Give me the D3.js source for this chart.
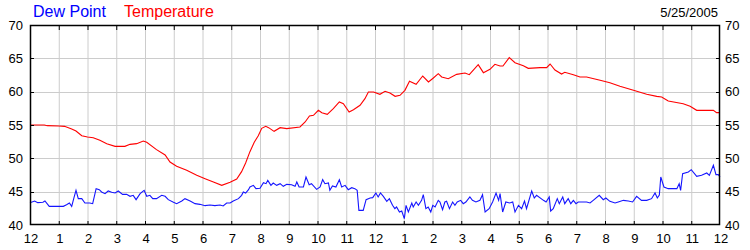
<!DOCTYPE html>
<html>
<head>
<meta charset="utf-8">
<script src="https://cdn.jsdelivr.net/npm/d3@7"></script>
<style>
html,body{margin:0;padding:0;background:#fff;}
svg{display:block;font-family:"Liberation Sans",Arial,sans-serif;}
</style>
</head>
<body>
<svg id="chart" width="750" height="250"></svg>
<script>
// ---- data ----
const title = "5/25/2005";
const seriesNames = ["Dew Point", "Temperature"];
const xTickLabels = ["12","1","2","3","4","5","6","7","8","9","10","11","12","1","2","3","4","5","6","7","8","9","10","11","12"];
const yTicks = [40, 45, 50, 55, 60, 65, 70];

const tempHours = [0,0.5,0.6,1.0,1.2,1.45,1.6,1.8,2.0,2.2,2.43,2.67,2.96,3.3,3.48,3.71,3.94,4.06,4.4,4.7,4.87,5.1,5.45,5.8,6.09,6.38,6.67,6.96,7.19,7.36,7.5,7.65,7.8,7.94,8.06,8.2,8.3,8.49,8.7,8.93,9.39,9.57,9.72,9.86,10.03,10.15,10.34,10.55,10.76,10.9,11.1,11.25,11.48,11.65,11.77,11.95,12.17,12.35,12.52,12.7,12.87,13.04,13.2,13.43,13.66,13.86,14.03,14.2,14.32,14.55,14.84,15.13,15.28,15.59,15.77,16.0,16.17,16.35,16.45,16.67,16.87,17.16,17.33,17.74,17.97,18.09,18.26,18.49,18.6,18.9,19.13,19.36,19.83,20.17,20.52,20.99,21.45,21.8,21.97,22.2,22.72,22.96,23.19,23.77,23.88,24];
const tempValues = [55.0,55.0,54.9,54.85,54.8,54.4,54.1,53.4,53.2,53.1,52.7,52.2,51.8,51.8,52.1,52.2,52.6,52.4,51.3,50.5,49.45,48.8,48.2,47.45,46.95,46.45,45.95,46.4,46.9,48.0,49.3,51.0,52.4,53.4,54.5,54.8,54.6,54.05,54.6,54.45,54.7,55.45,56.35,56.45,57.2,56.85,56.6,57.45,58.45,58.2,56.95,57.3,57.95,58.95,59.95,59.95,59.6,60.05,59.8,59.3,59.45,60.2,61.55,61.1,62.35,61.45,62.05,62.7,62.2,61.95,62.6,62.8,62.55,64.05,62.85,63.35,64.1,63.85,63.85,65.1,64.35,63.9,63.5,63.6,63.6,64.15,63.25,62.65,62.9,62.55,62.2,62.2,61.7,61.35,60.8,60.2,59.6,59.3,59.2,58.6,58.2,57.8,57.2,57.2,56.85,56.85];

const dewHours = [0,0.16,0.27,0.45,0.52,0.67,0.93,1.16,1.27,1.37,1.45,1.53,1.6,1.68,1.8,1.91,2.08,2.18,2.3,2.41,2.49,2.61,2.72,2.84,2.96,3.07,3.22,3.36,3.48,3.59,3.69,3.83,3.97,4.06,4.17,4.27,4.4,4.58,4.7,4.81,4.99,5.1,5.28,5.39,5.57,5.74,5.91,6.09,6.26,6.43,6.61,6.72,6.84,6.96,7.07,7.25,7.36,7.42,7.5,7.6,7.65,7.77,7.86,8.0,8.12,8.21,8.27,8.38,8.46,8.58,8.7,8.81,8.93,9.1,9.22,9.28,9.36,9.51,9.6,9.71,9.79,9.97,10.09,10.18,10.26,10.38,10.43,10.52,10.64,10.76,10.84,10.96,11.07,11.19,11.3,11.38,11.44,11.59,11.69,11.83,11.92,12.03,12.11,12.19,12.29,12.41,12.5,12.61,12.69,12.75,12.85,12.93,13.02,13.08,13.16,13.28,13.33,13.43,13.51,13.62,13.68,13.77,13.85,13.94,14.01,14.09,14.2,14.26,14.35,14.43,14.49,14.59,14.7,14.78,14.86,14.98,15.07,15.16,15.3,15.39,15.51,15.65,15.74,15.83,15.97,16.09,16.21,16.3,16.35,16.44,16.55,16.68,16.79,16.87,16.99,17.1,17.2,17.27,17.45,17.54,17.62,17.86,17.95,18.06,18.11,18.2,18.34,18.41,18.53,18.6,18.72,18.81,18.9,18.99,19.07,19.36,19.48,19.59,19.8,19.94,20.03,20.17,20.35,20.46,20.64,20.81,20.96,21.1,21.27,21.45,21.62,21.74,21.82,21.89,21.94,22.05,22.2,22.38,22.5,22.58,22.63,22.7,22.9,23.0,23.19,23.36,23.54,23.63,23.77,23.86,23.94,24];
const dewValues = [43.35,43.6,43.35,43.4,43.6,42.8,42.8,42.8,43.05,43.3,42.8,44.1,45.2,43.95,43.95,43.3,43.3,43.2,45.45,45.3,44.95,44.7,45.1,44.9,44.8,45.1,44.6,44.6,44.3,44.45,43.8,44.7,45.2,44.3,44.45,43.95,43.95,44.45,44.3,43.8,43.4,43.2,43.6,43.95,43.6,43.2,43.1,42.9,43.0,42.9,43.0,42.85,43.3,43.3,43.6,43.95,44.45,44.95,44.8,45.3,45.7,45.95,45.45,45.5,46.35,46.2,46.7,45.95,46.3,45.95,46.2,45.8,46.1,46.05,45.8,46.45,45.7,45.7,47.2,46.05,46.2,45.35,45.7,46.8,46.2,46.3,45.2,45.85,45.7,46.8,45.7,45.95,45.3,45.6,45.45,45.2,42.2,42.2,43.8,44.05,44.1,44.8,44.2,44.8,44.3,43.55,43.95,42.95,42.45,42.7,41.95,42.1,40.95,42.95,41.95,43.3,42.7,43.45,42.95,43.7,44.55,42.45,42.7,41.95,42.95,42.7,43.7,43.45,42.3,43.45,43.55,42.45,43.45,42.95,43.45,43.7,43.2,43.45,44.2,43.7,43.45,43.7,44.55,41.95,42.45,43.45,44.8,43.7,44.7,41.95,43.45,43.3,43.45,41.95,42.95,42.45,43.6,42.45,45.1,44.05,44.45,43.7,43.45,44.2,42.1,42.45,43.95,43.2,44.2,43.2,43.95,43.2,43.7,43.2,43.45,43.45,43.3,43.7,44.45,43.8,44.05,43.55,43.3,43.45,43.7,43.6,43.45,44.3,43.7,43.7,43.95,44.8,44.05,44.5,47.2,45.7,45.45,45.45,45.45,46.2,45.2,47.7,47.95,48.3,47.3,47.45,47.8,47.45,48.95,47.55,47.55,47.2];

// ---- chart ----
const svg = d3.select("#chart");
const L = 30, R = 720, T = 25, B = 225;
const x = d3.scaleLinear().domain([0, 24]).range([L, R]);
const y = d3.scaleLinear().domain([40, 70]).range([B, T]);
const hours = d3.range(0, 25);

// gridlines
svg.append("g").selectAll("line").data(hours.slice(1, -1)).join("line")
  .attr("x1", d => x(d) + 0.5).attr("x2", d => x(d) + 0.5)
  .attr("y1", T).attr("y2", B)
  .attr("stroke", "#cccccc").attr("stroke-width", 1);
svg.append("g").selectAll("line").data(yTicks.slice(1, -1)).join("line")
  .attr("x1", L).attr("x2", R)
  .attr("y1", d => Math.round(y(d)) + 0.5).attr("y2", d => Math.round(y(d)) + 0.5)
  .attr("stroke", "#cccccc").attr("stroke-width", 1);

// lines
const lineGen = d3.line().x(d => x(d[0])).y(d => y(d[1]));
svg.append("path").datum(dewHours.map((h, i) => [h, dewValues[i]]))
  .attr("d", lineGen).attr("fill", "none").attr("stroke", "#1515ff").attr("stroke-width", 1.1);
svg.append("path").datum(tempHours.map((h, i) => [h, tempValues[i]]))
  .attr("d", lineGen).attr("fill", "none").attr("stroke", "#ff0000").attr("stroke-width", 1.1);

// frame
svg.append("rect").attr("x", L + 0.5).attr("y", T + 0.5)
  .attr("width", R - L - 1).attr("height", B - T - 1)
  .attr("fill", "none").attr("stroke", "#000").attr("stroke-width", 1.5);

// ticks (inward)
svg.append("g").selectAll("line").data(hours.slice(1, -1)).join("line")
  .attr("x1", d => x(d) + 0.5).attr("x2", d => x(d) + 0.5)
  .attr("y1", T).attr("y2", T + 5).attr("stroke", "#000");
svg.append("g").selectAll("line").data(hours.slice(1, -1)).join("line")
  .attr("x1", d => x(d) + 0.5).attr("x2", d => x(d) + 0.5)
  .attr("y1", B).attr("y2", B - 4).attr("stroke", "#000");
svg.append("g").selectAll("line").data(yTicks.slice(1, -1)).join("line")
  .attr("x1", L).attr("x2", L + 4)
  .attr("y1", d => Math.round(y(d)) + 0.5).attr("y2", d => Math.round(y(d)) + 0.5).attr("stroke", "#000");
svg.append("g").selectAll("line").data(yTicks.slice(1, -1)).join("line")
  .attr("x1", R - 4).attr("x2", R)
  .attr("y1", d => Math.round(y(d)) + 0.5).attr("y2", d => Math.round(y(d)) + 0.5).attr("stroke", "#000");

// axis labels
const lab = svg.append("g").attr("font-size", 13).attr("fill", "#000");
lab.selectAll("text.l").data(yTicks).join("text").attr("class", "l")
  .attr("x", L - 7).attr("y", d => y(d)).attr("dy", "0.36em")
  .attr("text-anchor", "end").text(d => d);
lab.selectAll("text.r").data(yTicks).join("text").attr("class", "r")
  .attr("x", R + 5).attr("y", d => y(d)).attr("dy", "0.36em")
  .attr("text-anchor", "start").text(d => d);
lab.selectAll("text.b").data(xTickLabels).join("text").attr("class", "b")
  .attr("x", (d, i) => x(hours[i]) + 1).attr("y", 243)
  .attr("text-anchor", "middle").text(d => d);

// legend + date
svg.append("text").attr("x", 33).attr("y", 17).attr("font-size", 16).attr("fill", "#0000ff").text(seriesNames[0]);
svg.append("text").attr("x", 124).attr("y", 17).attr("font-size", 16).attr("fill", "#ff0000").text(seriesNames[1]);
svg.append("text").attr("x", 718).attr("y", 17).attr("font-size", 13).attr("text-anchor", "end").attr("fill", "#000").text(title);
</script>
</body>
</html>
